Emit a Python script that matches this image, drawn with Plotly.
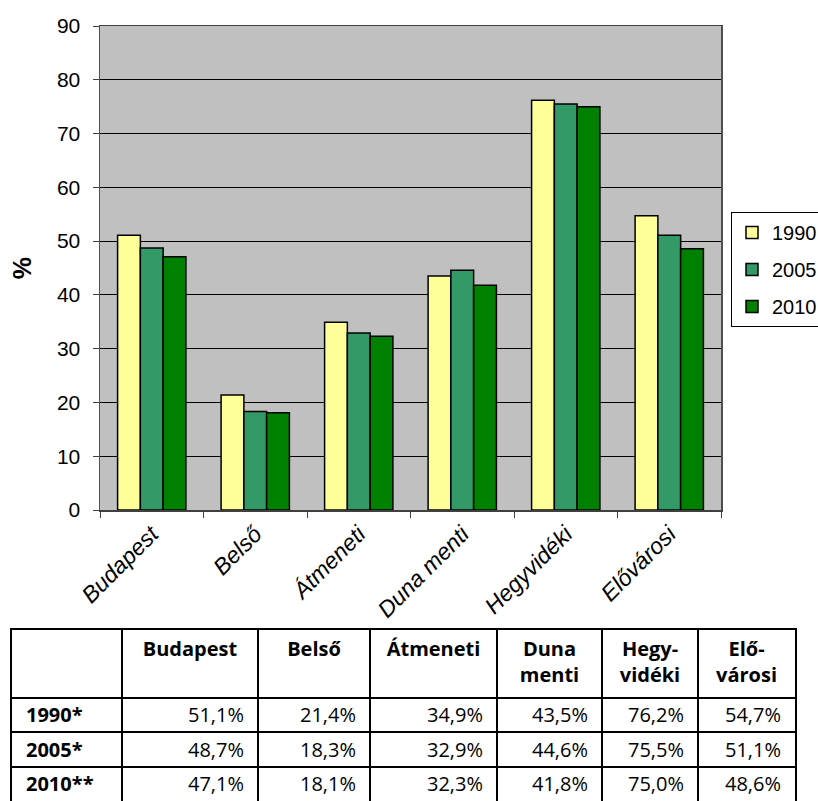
import plotly.graph_objects as go

categories = ["Budapest", "Belső", "Átmeneti", "Duna menti", "Hegyvidéki", "Elővárosi"]
years = ["1990", "2005", "2010"]
values_1990 = [51.1, 21.4, 34.9, 43.5, 76.2, 54.7]
values_2005 = [48.7, 18.3, 32.9, 44.6, 75.5, 51.1]
values_2010 = [47.1, 18.1, 32.3, 41.8, 75.0, 48.6]
series = [values_1990, values_2005, values_2010]
colors = ["#FFFF99", "#339966", "#008000"]

table_headers = ["Budapest", "Belső", "Átmeneti", "Duna<br>menti", "Hegy-<br>vidéki", "Elő-<br>városi"]
row_labels = ["1990*", "2005*", "2010**"]

W, H = 818, 801
AX_FONT = "Arial, Liberation Sans, sans-serif"
TB_FONT = "Open Sans, Noto Sans, sans-serif"

# table geometry (pixels)
col_w = [110, 136, 112, 127, 105, 96, 97]
row_h = [68, 34, 35, 34]
x_edges = [0]
for w in col_w:
    x_edges.append(x_edges[-1] + w)
y_edges = [0]
for h in row_h:
    y_edges.append(y_edges[-1] + h)
tb_left, tb_top = 12, 630

fig = go.Figure()
for i, (name, vals, col) in enumerate(zip(years, series, colors)):
    fig.add_trace(go.Bar(
        x=categories, y=vals, name=name, legendgroup=name,
        marker=dict(color=col, line=dict(color="black", width=1.5)),
        xaxis="x", yaxis="y", hoverinfo="skip",
    ))

def fmt(v):
    return f"{v:.1f}".replace(".", ",") + "%"

row_centers = [(y_edges[r] + y_edges[r + 1]) / 2 + 2 for r in range(1, 4)]
tfont = dict(family=TB_FONT, size=20, color="black")

# header texts
for i, h in enumerate(table_headers):
    cx = (x_edges[i + 1] + x_edges[i + 2]) / 2
    fig.add_trace(go.Scatter(
        x=[cx], y=[11], text=["<b>" + h + "</b>"], mode="text",
        textposition="bottom center", textfont=tfont,
        xaxis="x2", yaxis="y2", showlegend=False, hoverinfo="skip", cliponaxis=False,
    ))
# row labels
fig.add_trace(go.Scatter(
    x=[x_edges[0] + 14] * 3, y=row_centers, text=["<b>" + r + "</b>" for r in row_labels],
    mode="text", textposition="middle right", textfont=tfont,
    xaxis="x2", yaxis="y2", showlegend=False, hoverinfo="skip", cliponaxis=False,
))
# values
for i in range(len(categories)):
    fig.add_trace(go.Scatter(
        x=[x_edges[i + 2] - 14] * 3, y=row_centers,
        text=[fmt(s[i]) for s in series],
        mode="text", textposition="middle left", textfont=tfont,
        xaxis="x2", yaxis="y2", showlegend=False, hoverinfo="skip", cliponaxis=False,
    ))

fig.add_shape(type="rect", xref="x domain", yref="y domain", x0=0, x1=1, y0=0, y1=1,
              fillcolor="#C0C0C0", line=dict(width=0), layer="below")

fig.update_layout(
    width=W, height=H,
    autosize=False,
    margin=dict(l=0, r=0, t=0, b=0, autoexpand=False),
    paper_bgcolor="white",
    plot_bgcolor="rgba(0,0,0,0)",
    barmode="group",
    bargap=0.34,
    bargroupgap=0,
    hovermode=False,
    font=dict(family=AX_FONT, size=21, color="black"),
    xaxis=dict(
        domain=[100 / W, 721 / W],
        anchor="y",
        type="category",
        tickson="boundaries",
        ticks="outside", ticklen=6, tickcolor="#404040",
        tickangle=-45,
        tickfont=dict(size=23, style="italic"),
        showline=True, linecolor="#404040", linewidth=1.5, mirror=True,
        showgrid=False, automargin=False,
    ),
    yaxis=dict(
        domain=[1 - 510 / H, 1 - 26 / H],
        anchor="x",
        range=[0, 90], dtick=10,
        ticks="outside", ticklen=6, tickcolor="#404040",
        tickfont=dict(size=21),
        ticklabelstandoff=8,
        showline=True, linecolor="#505050", linewidth=1.5, mirror=True,
        showgrid=True, gridcolor="black", gridwidth=1,
        zeroline=False, automargin=False,
        title=dict(text="<b>%</b>", font=dict(size=25), standoff=18),
    ),
    xaxis2=dict(
        domain=[tb_left / W, (tb_left + x_edges[-1]) / W],
        anchor="y2", range=[0, x_edges[-1]],
        tickvals=x_edges[1:-1], showticklabels=False, ticks="",
        showgrid=True, gridcolor="black", gridwidth=2,
        showline=True, mirror=True, linecolor="black", linewidth=2,
        zeroline=False, automargin=False, fixedrange=True,
    ),
    yaxis2=dict(
        domain=[0, 1 - tb_top / H],
        anchor="x2", range=[y_edges[-1], 0],
        tickvals=y_edges[1:-1], showticklabels=False, ticks="",
        showgrid=True, gridcolor="black", gridwidth=2,
        showline=True, mirror=True, linecolor="black", linewidth=2,
        zeroline=False, automargin=False, fixedrange=True,
    ),
    legend=dict(
        x=731 / W, y=1 - 212 / H, xanchor="left", yanchor="top",
        bordercolor="black", borderwidth=1, bgcolor="white",
        font=dict(size=20),
        tracegroupgap=8,
    ),
)

post = (
    "document.documentElement.style.overflow='hidden';"
    "document.body.style.margin='0';document.body.style.overflow='hidden';"
)
fig.write_html(
    "out.html",
    config={"responsive": False, "displayModeBar": False, "staticPlot": True},
    post_script=post,
)
